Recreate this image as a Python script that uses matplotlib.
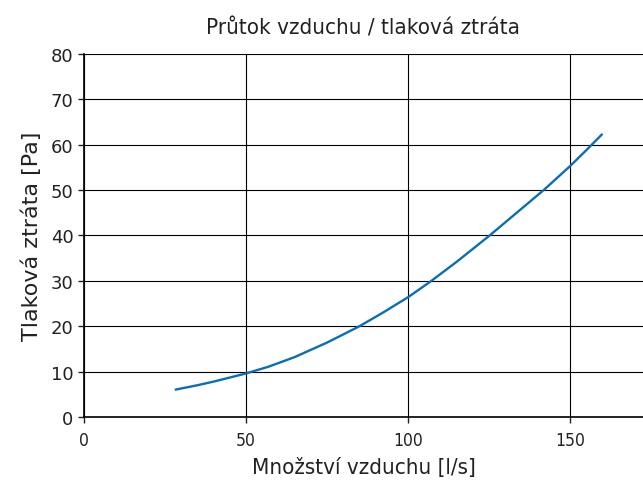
import numpy as np
import matplotlib
matplotlib.use("Agg")
import matplotlib.pyplot as plt

# values
airflow = [28, 35, 40, 45, 50, 57, 65, 75, 85, 92, 100, 107, 115, 125, 133, 142, 150, 155, 160]
pressure_drop = [6.0, 7.0, 7.8, 8.7, 9.6, 11.1, 13.2, 16.4, 20.0, 22.9, 26.4, 29.9, 34.2,
                 39.9, 44.7, 50.1, 55.3, 58.8, 62.4]

x_ticks = [0, 50, 100, 150]
y_ticks = [0, 10, 20, 30, 40, 50, 60, 70, 80]

title = "Průtok vzduchu / tlaková ztráta"
x_label = "Množství vzduchu [l/s]"
y_label = "Tlaková ztráta [Pa]"

fig = plt.figure(figsize=(6.43, 4.85), dpi=100)
ax = fig.add_axes([84 / 643, 1 - 418 / 485, 1 - 84 / 643, (418 - 55) / 485])

ax.plot(airflow, pressure_drop, color="#0a6eb4", linewidth=1.7, solid_capstyle="butt")

ax.set_xlim(0, 172.5)
ax.set_ylim(0, 80)
ax.set_xticks(x_ticks)
ax.set_yticks(y_ticks)
ax.grid(True, color="black", linewidth=0.8)
ax.set_axisbelow(True)

for side in ["top", "right"]:
    ax.spines[side].set_visible(False)
for side in ["left", "bottom"]:
    ax.spines[side].set_linewidth(1.2)

ax.tick_params(direction="out", length=4, width=1, colors="#222222")
ax.tick_params(axis="x", pad=6)
for lab in ax.get_xticklabels():
    lab.set_fontstretch("condensed")
    lab.set_fontsize(12.5)
ax.tick_params(axis="y", labelsize=13)

ax.set_title(title, fontsize=16, fontstretch="condensed", color="#222222", pad=15)
ax.set_xlabel(x_label, fontsize=16, fontstretch="condensed", color="#222222", labelpad=6)
ax.set_ylabel(y_label, fontsize=16, color="#222222", labelpad=6)

fig.savefig("out.png", dpi=100)
